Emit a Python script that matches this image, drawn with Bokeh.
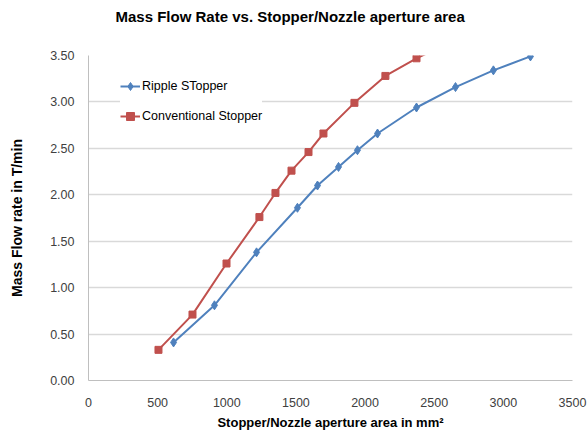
from bokeh.plotting import figure
from bokeh.models import Range1d, FixedTicker, NumeralTickFormatter, Legend, LegendItem, Title
from bokeh.embed import file_html
from bokeh.resources import INLINE

# Aperture area (mm^2) and mass flow rate (T/min) for each stopper type
ripple_area = [615, 911, 1215, 1511, 1656, 1808, 1945, 2090, 2372, 2654, 2928, 3196]
ripple_flow = [0.41, 0.81, 1.38, 1.86, 2.10, 2.30, 2.48, 2.66, 2.94, 3.16, 3.34, 3.49]

conv_area = [506, 752, 998, 1236, 1352, 1468, 1591, 1699, 1923, 2147, 2372, 2600]
conv_flow = [0.33, 0.71, 1.26, 1.76, 2.02, 2.26, 2.46, 2.66, 2.99, 3.28, 3.47, 3.63]

x_ticks = [0, 500, 1000, 1500, 2000, 2500, 3000, 3500]
y_ticks = [0.0, 0.5, 1.0, 1.5, 2.0, 2.5, 3.0, 3.5]

BLUE = "#4F81BD"
RED = "#C0504D"
FONT = "Liberation Sans"

p = figure(width=588, height=432, output_backend="svg", toolbar_location=None,
           x_range=Range1d(0, 3500), y_range=Range1d(0, 3.5), title=None,
           min_border_left=88, min_border_right=16, min_border_top=55, min_border_bottom=50)
p.outline_line_color = None
p.background_fill_color = "white"
p.border_fill_color = "white"

# A blank spacer title next to the frame lifts the real title towards the top
p.add_layout(Title(text=" ", text_font_size="1px", standoff=26), "above")
p.add_layout(Title(text="Mass Flow Rate vs. Stopper/Nozzle aperture area",
                   text_font=FONT, text_font_size="15px", text_font_style="bold",
                   text_color="#000000", align="left", offset=27, standoff=4), "above")

# Axes
p.xaxis.ticker = FixedTicker(ticks=x_ticks)
p.yaxis.ticker = FixedTicker(ticks=y_ticks)
p.yaxis.formatter = NumeralTickFormatter(format="0.00")
p.xaxis.axis_label = "Stopper/Nozzle aperture area in mm\u00b2"
p.yaxis.axis_label = "Mass Flow rate in T/min"
for ax in (p.xaxis, p.yaxis):
    ax.axis_line_color = "#BFBFBF"
    ax.major_tick_line_color = None
    ax.minor_tick_line_color = None
    ax.major_label_text_font = FONT
    ax.major_label_text_font_size = "12.5px"
    ax.major_label_text_color = "#404040"
    ax.axis_label_text_font = FONT
    ax.axis_label_text_font_style = "bold"
    ax.axis_label_text_color = "#000000"
p.xaxis.axis_label_text_font_size = "13px"
p.yaxis.axis_label_text_font_size = "14px"
p.xaxis.major_label_standoff = 11
p.xaxis.axis_label_standoff = 5
p.yaxis.major_label_standoff = 8
p.yaxis.axis_label_standoff = 22

p.xgrid.grid_line_color = None
p.ygrid.grid_line_color = "#D9D9D9"
p.ygrid.grid_line_width = 1.5

# Series
r_line = p.line(ripple_area, ripple_flow, line_color=BLUE, line_width=2)
r_pts = p.scatter(ripple_area, ripple_flow, marker="diamond", size=9,
                  fill_color=BLUE, line_color=BLUE)
c_line = p.line(conv_area, conv_flow, line_color=RED, line_width=2)
c_pts = p.scatter(conv_area, conv_flow, marker="square", size=7,
                  fill_color=RED, line_color=RED)

legend = Legend(items=[
    LegendItem(label="Ripple STopper", renderers=[r_line, r_pts]),
    LegendItem(label="Conventional Stopper", renderers=[c_line, c_pts]),
], location=(32, 254))
legend.border_line_color = None
legend.background_fill_color = "white"
legend.background_fill_alpha = 1.0
legend.padding = 12
legend.margin = 0
legend.spacing = 10
legend.glyph_width = 20
legend.glyph_height = 20
legend.label_height = 20
legend.label_standoff = 2
legend.label_text_font = FONT
legend.label_text_font_size = "12.5px"
legend.label_text_color = "#000000"
p.add_layout(legend, "center")

open("out.html", "w").write(file_html(p, INLINE))
